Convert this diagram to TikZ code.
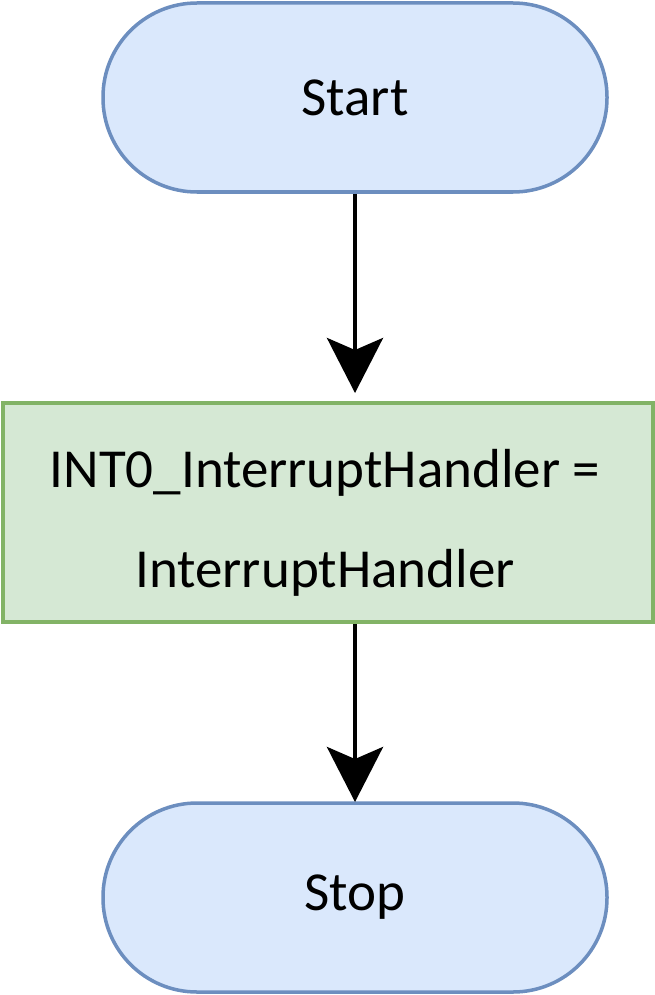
\documentclass[tikz,border=0pt]{standalone}
\usepackage{fontspec}
\setmainfont{Carlito}
\usetikzlibrary{arrows.meta}
\definecolor{bfill}{HTML}{DAE8FC}
\definecolor{bline}{HTML}{6C8EBF}
\definecolor{gfill}{HTML}{D5E8D4}
\definecolor{gline}{HTML}{82B366}
\tikzset{
  term/.style={draw=bline,fill=bfill,line width=3.5pt,rounded corners=94pt,minimum width=504pt,minimum height=189pt,inner sep=0pt,font=\fontsize{55}{60}\selectfont},
  procbox/.style={draw=gline,fill=gfill,line width=4pt,minimum width=650pt,minimum height=219pt,inner sep=0pt},
  proctext/.style={align=center,inner sep=0pt,font=\fontsize{55}{100}\selectfont},
  conn/.style={line width=4.5pt,-{Stealth[length=55pt,width=56pt,inset=12pt]}}
}
\begin{document}
\begin{tikzpicture}[x=1pt,y=-1pt]
\useasboundingbox (0,0) rectangle (655,995);
\node[term] (start) at (355,97.5) {Start\hspace{6pt}};
\node[procbox] (proc) at (328,512.5) {};
\node[proctext] (ptext) at (325,523) {INT0\_InterruptHandler =\\InterruptHandler};
\node[term] (stop) at (355,897.5) {Stop\hspace{6pt}};
\coordinate (p1) at (355,393);
\coordinate (p2) at (355,802);
\draw[conn] (start.south -| p1) -- (p1);
\draw[conn] (proc.south -| p2) -- (p2);
\end{tikzpicture}
\end{document}
